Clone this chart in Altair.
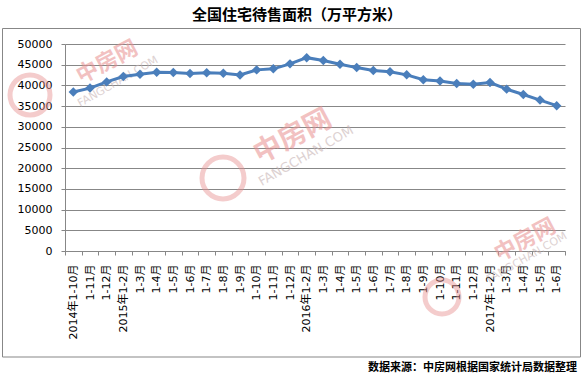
import json
import altair as alt
import pandas as pd

labels = ["2014年1-10月", "1-11月", "1-12月",
          "2015年1-2月", "1-3月", "1-4月", "1-5月", "1-6月", "1-7月", "1-8月", "1-9月", "1-10月", "1-11月", "1-12月",
          "2016年1-2月", "1-3月", "1-4月", "1-5月", "1-6月", "1-7月", "1-8月", "1-9月", "1-10月", "1-11月", "1-12月",
          "2017年1-2月", "1-3月", "1-4月", "1-5月", "1-6月"]
values = [38400, 39350, 40850, 42150, 42700, 43200, 43100, 42850, 43050, 42950,
          42500, 43750, 44000, 45200, 46700, 46000, 45100, 44300, 43600, 43300,
          42550, 41350, 41050, 40450, 40300, 40700, 39100, 37800, 36450, 35100]
title_text = "全国住宅待售面积（万平方米）"
source_text = "数据来源：中房网根据国家统计局数据整理"
wm_cn = "中房网"
wm_en = "FANGCHAN.COM"

df = pd.DataFrame({"idx": list(range(len(values))), "v": values})
one = pd.DataFrame({"a": [0]})

FONT = "DejaVu Sans, Noto Sans CJK SC, sans-serif"
CJK = "Noto Sans CJK SC, sans-serif"
BLUE = "#4A7EBB"
GRAY = "#878787"
PINK = "#E89090"

label_expr = json.dumps(labels, ensure_ascii=False) + "[datum.value]"

x = alt.X("idx:O", scale=alt.Scale(paddingInner=0, paddingOuter=0),
          axis=alt.Axis(title=None, labelExpr=label_expr, labelAngle=-90, tickBand="extent",
                        labelFont=FONT, labelFontSize=11, labelColor="#000000",
                        domainColor=GRAY, tickColor=GRAY, tickSize=4, labelPadding=9,
                        grid=False))
y = alt.Y("v:Q", scale=alt.Scale(domain=[0, 50000], nice=False),
          axis=alt.Axis(title=None, values=list(range(0, 50001, 5000)), format="d",
                        labelFont=FONT, labelFontSize=11, labelColor="#000000",
                        domainColor=GRAY, tickColor=GRAY, tickSize=4, labelPadding=9,
                        gridColor=GRAY, gridOpacity=1))

line = alt.Chart(df).mark_line(color=BLUE, strokeWidth=3).encode(x=x, y=y)
pts = alt.Chart(df).mark_point(shape="diamond", filled=True, color=BLUE, size=90, opacity=1).encode(x=x, y=y)

border = alt.Chart(one).mark_rect(fill="transparent", stroke=GRAY, strokeWidth=1).encode(
    x=alt.value(-62.5), x2=alt.value(515.5), y=alt.value(-15.5), y2=alt.value(313))

title = alt.Chart(one).mark_text(text=title_text, font=CJK, fontSize=15, fontWeight="bold",
                                 color="#000000", align="center", baseline="middle").encode(
    x=alt.value(232), y=alt.value(-29))
source = alt.Chart(one).mark_text(text=source_text, font=CJK, fontSize=11, fontWeight="bold",
                                  color="#000000", align="right", baseline="middle").encode(
    x=alt.value(512), y=alt.value(324))

# watermarks (decorative)
wms = []
for (cx, cy, cs, ex, ey, es, lx, ly, lr) in [
    (42, 18, 22, 53, 38, 11, -35, 51, 20),
    (228, 93, 28, 241, 112, 13, 158, 134, 21),
    (460, 196, 22, 462, 214, 11, 377, 253, 17),
]:
    wms.append(alt.Chart(one).mark_text(text=wm_cn, font=CJK, fontSize=cs, fontWeight="bold",
                                        color=PINK, opacity=0.55, angle=332,
                                        align="center", baseline="middle").encode(
        x=alt.value(cx), y=alt.value(cy)))
    wms.append(alt.Chart(one).mark_text(text=wm_en, font=FONT, fontSize=es,
                                        color="#C8B4B4", opacity=0.6, angle=330,
                                        align="center", baseline="middle").encode(
        x=alt.value(ex), y=alt.value(ey)))
    wms.append(alt.Chart(one).mark_point(shape="circle", filled=False, color=PINK, strokeWidth=5,
                                         opacity=0.45, size=(2 * lr) ** 2).encode(
        x=alt.value(lx), y=alt.value(ly)))

chart = alt.layer(border, *wms, line, pts, title, source).properties(
    width=500, height=207,
    autosize=alt.AutoSizeParams(type="none"),
    padding={"left": 65, "top": 44, "right": 18, "bottom": 127},
    background="#ffffff",
).configure_view(stroke=None)

chart.save("out.html", embed_options={"renderer": "svg", "actions": False})
